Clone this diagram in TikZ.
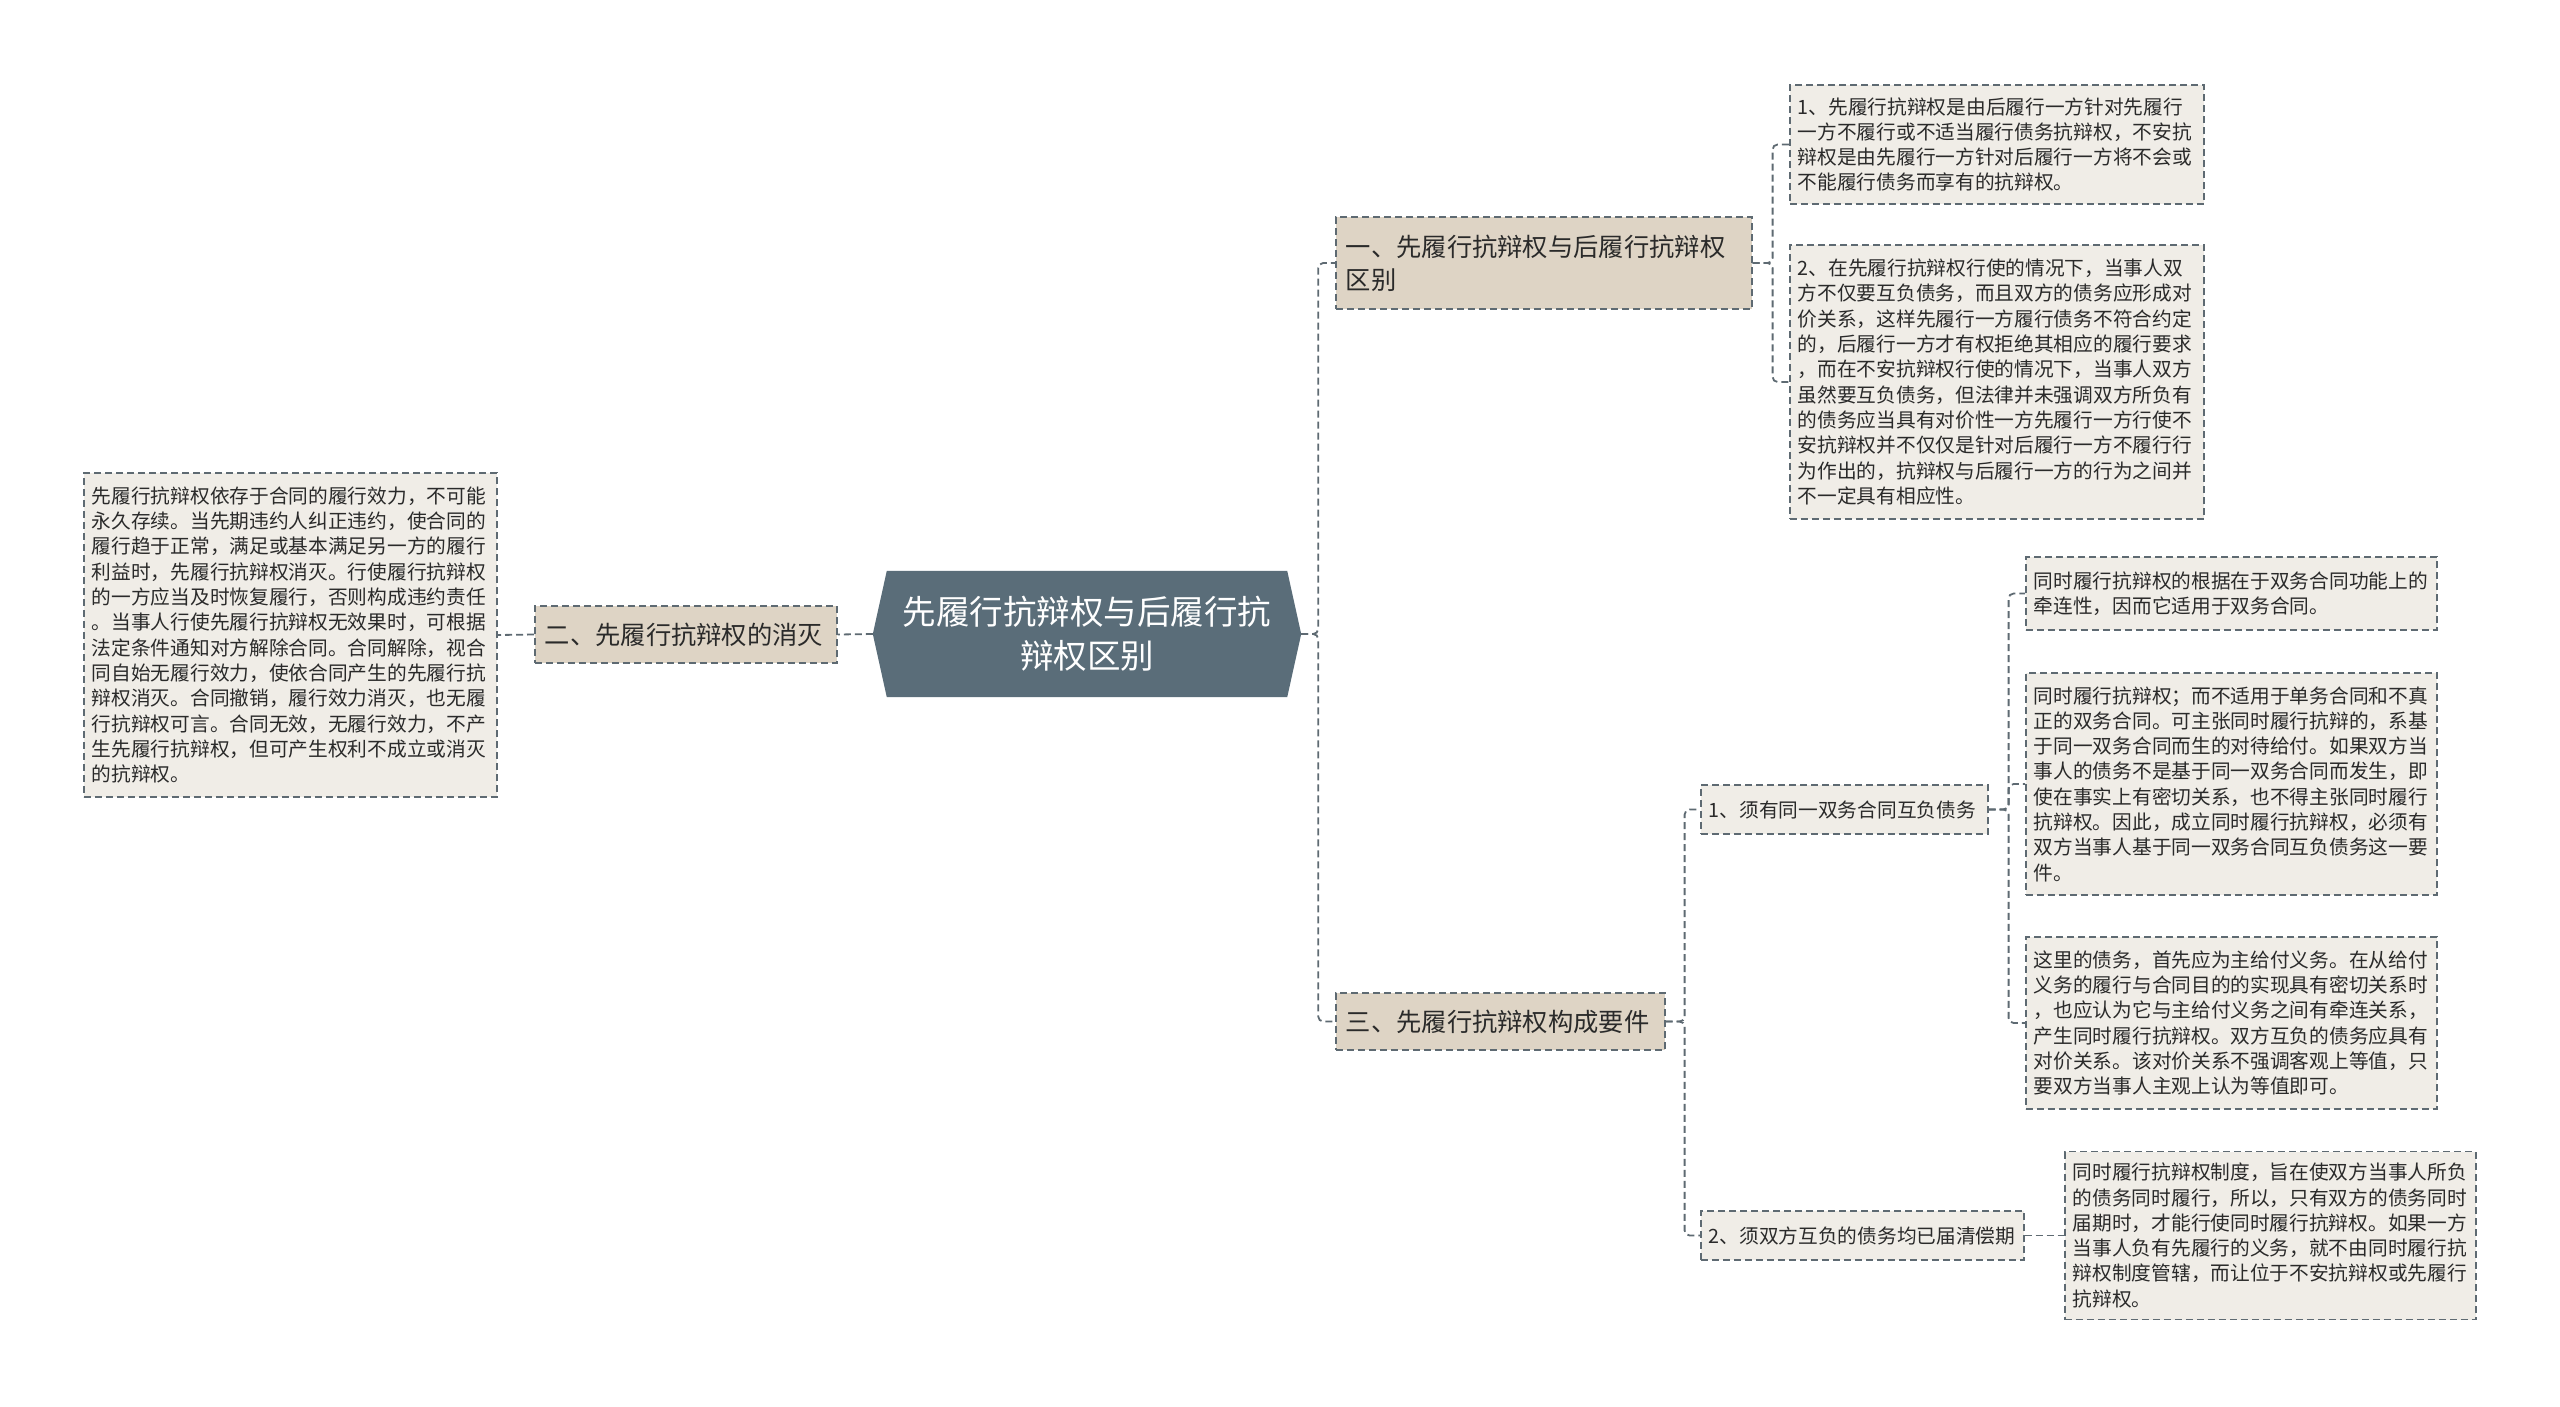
\documentclass[tikz,border=0pt]{standalone}
\usepackage{fontspec}
\setmainfont{Noto Sans CJK SC}
\usetikzlibrary{calc}
\pgfdeclarelayer{bg}
\pgfsetlayers{bg,main}
\definecolor{linec}{HTML}{5E6A72}
\definecolor{leaffill}{HTML}{F0EDE7}
\definecolor{branchfill}{HTML}{DED4C5}
\definecolor{centerfill}{HTML}{5A6D79}
\definecolor{txt}{HTML}{2A2A2A}
\begin{document}
\begin{tikzpicture}[x=1pt,y=-1pt,
  box/.style={draw=linec, line width=1.6pt, dash pattern=on 7pt off 4pt, anchor=west, inner ysep=0pt, text=txt},
  leaf/.style={box, fill=leaffill, inner xsep=8pt, align=left, font=\fontsize{19.7pt}{25.3pt}\selectfont},
  branch/.style={box, fill=branchfill, inner xsep=10pt, align=left, font=\fontsize{25.3pt}{33pt}\selectfont},
  subbox/.style={box, fill=leaffill, inner xsep=8pt, align=left, font=\fontsize{19.7pt}{25.3pt}\selectfont},
  conn/.style={draw=linec, line width=1.8pt, dash pattern=on 7pt off 4pt, rounded corners=5pt},
  centernode/.style={inner sep=0pt, minimum width=428pt, minimum height=126pt, align=center, text=white, font=\fontsize{33.5pt}{44pt}\selectfont},
]
\useasboundingbox (0,0) rectangle (2560,1406);

% center
\node[centernode] (c) at (1087,634) {先履行抗辩权与后履行抗\\辩权区别};
\begin{pgfonlayer}{bg}
\fill[white] (0,0) rectangle (2560,1406);
\fill[centerfill] ([xshift=14pt]c.north west) -- ([xshift=-14pt]c.north east) -- (c.east) -- ([xshift=-14pt]c.south east) -- ([xshift=14pt]c.south west) -- (c.west) -- cycle;
\end{pgfonlayer}

% branches
\node[branch, text width=396pt, minimum height=92pt] (b1) at (1335,263) {一、先履行抗辩权与后履行抗辩权\\区别};
\node[branch, text width=282pt, minimum height=57pt] (b2) at (534,634.5) {二、先履行抗辩权的消灭};
\node[branch, text width=309pt, minimum height=57pt] (b3) at (1335,1021.5) {三、先履行抗辩权构成要件};

% sub-branches
\node[subbox, text width=271pt, minimum height=49pt] (s1) at (1700,809.5) {1、须有同一双务合同互负债务};
\node[subbox, text width=307pt, minimum height=49pt] (s2) at (1700,1235.5) {2、须双方互负的债务均已届清偿期};

% leaves
\node[leaf, text width=397pt, minimum height=324pt] (l2) at (83,635) {先履行抗辩权依存于合同的履行效力，不可能\\永久存续。当先期违约人纠正违约，使合同的\\履行趋于正常，满足或基本满足另一方的履行\\利益时，先履行抗辩权消灭。行使履行抗辩权\\的一方应当及时恢复履行，否则构成违约责任\\。当事人行使先履行抗辩权无效果时，可根据\\法定条件通知对方解除合同。合同解除，视合\\同自始无履行效力，使依合同产生的先履行抗\\辩权消灭。合同撤销，履行效力消灭，也无履\\行抗辩权可言。合同无效，无履行效力，不产\\生先履行抗辩权，但可产生权利不成立或消灭\\的抗辩权。};

\node[leaf, text width=398pt, minimum height=119pt] (l11) at (1789,144.5) {1、先履行抗辩权是由后履行一方针对先履行\\一方不履行或不适当履行债务抗辩权，不安抗\\辩权是由先履行一方针对后履行一方将不会或\\不能履行债务而享有的抗辩权。};

\node[leaf, text width=398pt, minimum height=274pt] (l12) at (1789,382) {2、在先履行抗辩权行使的情况下，当事人双\\方不仅要互负债务，而且双方的债务应形成对\\价关系，这样先履行一方履行债务不符合约定\\的，后履行一方才有权拒绝其相应的履行要求\\，而在不安抗辩权行使的情况下，当事人双方\\虽然要互负债务，但法律并未强调双方所负有\\的债务应当具有对价性一方先履行一方行使不\\安抗辩权并不仅仅是针对后履行一方不履行行\\为作出的，抗辩权与后履行一方的行为之间并\\不一定具有相应性。};

\node[leaf, text width=395pt, minimum height=73pt] (l31a) at (2025,593.5) {同时履行抗辩权的根据在于双务合同功能上的\\牵连性，因而它适用于双务合同。};

\node[leaf, text width=395pt, minimum height=222pt] (l31b) at (2025,784) {同时履行抗辩权；而不适用于单务合同和不真\\正的双务合同。可主张同时履行抗辩的，系基\\于同一双务合同而生的对待给付。如果双方当\\事人的债务不是基于同一双务合同而发生，即\\使在事实上有密切关系，也不得主张同时履行\\抗辩权。因此，成立同时履行抗辩权，必须有\\双方当事人基于同一双务合同互负债务这一要\\件。};

\node[leaf, text width=395pt, minimum height=172pt] (l31c) at (2025,1023) {这里的债务，首先应为主给付义务。在从给付\\义务的履行与合同目的的实现具有密切关系时\\，也应认为它与主给付义务之间有牵连关系，\\产生同时履行抗辩权。双方互负的债务应具有\\对价关系。该对价关系不强调客观上等值，只\\要双方当事人主观上认为等值即可。};

\node[leaf, text width=395pt, minimum height=168pt] (l32) at (2064,1235.5) {同时履行抗辩权制度，旨在使双方当事人所负\\的债务同时履行，所以，只有双方的债务同时\\届期时，才能行使同时履行抗辩权。如果一方\\当事人负有先履行的义务，就不由同时履行抗\\辩权制度管辖，而让位于不安抗辩权或先履行\\抗辩权。};

% connectors
\draw[conn] (c.east) -- ++(17,0) |- (b1.west);
\draw[conn] (c.east) -- ++(17,0) |- (b3.west);
\draw[conn] (c.west) -- (b2.east);
\draw[conn] (b2.west) -- (l2.east);
\draw[conn] (b1.east) -- ++(20,0) |- (l11.west);
\draw[conn] (b1.east) -- ++(20,0) |- (l12.west);
\draw[conn] (b3.east) -- ++(19,0) |- (s1.west);
\draw[conn] (b3.east) -- ++(19,0) |- (s2.west);
\draw[conn] (s1.east) -- ++(20,0) |- (l31a.west);
\draw[conn] (s1.east) -- ++(20,0) |- (l31b.west);
\draw[conn] (s1.east) -- ++(20,0) |- (l31c.west);
\draw[conn] (s2.east) -- (l32.west);
\end{tikzpicture}
\end{document}
